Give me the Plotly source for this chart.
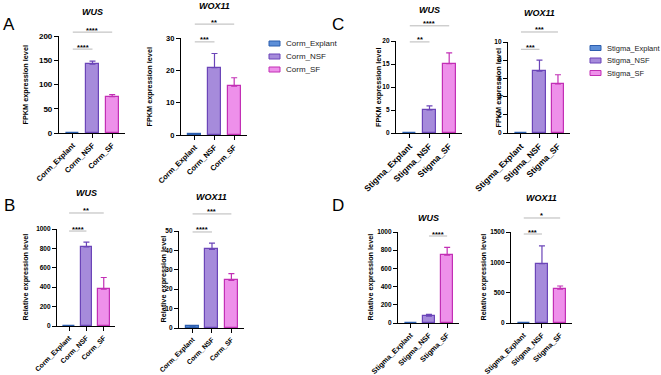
import plotly.graph_objects as go

# ---------------- data ----------------
corm_categories = ["Corm_Explant", "Corm_NSF", "Corm_SF"]
stigma_categories = ["Stigma_Explant", "Stigma_NSF", "Stigma_SF"]

fpkm_corm_wus = [0.0, 142, 75]
fpkm_corm_wus_err = [0.0, 6, 4]
fpkm_corm_wox11 = [0.3, 20.8, 15.1]
fpkm_corm_wox11_err = [0.1, 4.4, 2.6]
fpkm_stigma_wus = [0.0, 5.0, 15.1]
fpkm_stigma_wus_err = [0.0, 0.9, 2.3]
fpkm_stigma_wox11 = [0.0, 6.8, 5.4]
fpkm_stigma_wox11_err = [0.0, 1.2, 1.0]

rel_corm_wus = [1, 815, 380]
rel_corm_wus_err = [0, 50, 120]
rel_corm_wox11 = [1, 40.5, 24.5]
rel_corm_wox11_err = [0.2, 3.3, 3.5]
rel_stigma_wus = [1, 75, 745]
rel_stigma_wus_err = [0, 20, 85]
rel_stigma_wox11 = [1, 980, 560]
rel_stigma_wox11_err = [0, 290, 50]

# significance brackets: (from index, to index, bracket height in data units, label)
sig_A1 = [(0, 2, 208, "****"), (0, 1, 173, "****")]
sig_A2 = [(0, 2, 34.3, "**"), (0, 1, 28.8, "***")]
sig_C1 = [(0, 2, 23.3, "****"), (0, 1, 19.8, "**")]
sig_C2 = [(0, 2, 11.1, "***"), (0, 1, 9.2, "***")]
sig_B1 = [(0, 2, 1165, "**"), (0, 1, 979, "****")]
sig_B2 = [(0, 2, 58.8, "***"), (0, 1, 49.5, "****")]
sig_D1 = [(1, 2, 956, "****")]
sig_D2 = [(0, 2, 1731, "*"), (0, 1, 1467, "***")]

# ---------------- style ----------------
W, H = 661, 375
FONT = "Liberation Sans, Arial, sans-serif"
fills = ["#5d8fd8", "#a68bdb", "#ee90ea"]
edges = ["#2c5eae", "#6b45b8", "#c22fb5"]
XR = [-0.7, 2.65]


def px(x):
    return x / W


def py(y):
    return 1 - y / H


panels = [
    dict(cats=corm_categories, v=fpkm_corm_wus, e=fpkm_corm_wus_err, sig=sig_A1, gene="WUS",
         ytitle="FPKM expression level", ymax=200, dtick=50, box=(59, 125, 36, 133),
         ytx=25, tty=12, yfs=8, xfs=7.5),
    dict(cats=corm_categories, v=fpkm_corm_wox11, e=fpkm_corm_wox11_err, sig=sig_A2, gene="WOX11",
         ytitle="FPKM expression level", ymax=30, dtick=10, box=(181, 247, 38, 135),
         ytx=149, tty=6, yfs=7.5, xfs=7.5),
    dict(cats=stigma_categories, v=fpkm_stigma_wus, e=fpkm_stigma_wus_err, sig=sig_C1, gene="WUS",
         ytitle="FPKM expression level", ymax=20, dtick=5, box=(396, 462, 41, 133),
         ytx=378, tty=10, yfs=6.5, xfs=8.5),
    dict(cats=stigma_categories, v=fpkm_stigma_wox11, e=fpkm_stigma_wox11_err, sig=sig_C2, gene="WOX11",
         ytitle="FPKM expression level", ymax=10, dtick=2, box=(508, 570, 42, 133),
         ytx=498, tty=13, yfs=6.5, xfs=8.5),
    dict(cats=corm_categories, v=rel_corm_wus, e=rel_corm_wus_err, sig=sig_B1, gene="WUS",
         ytitle="Relative expression level", ymax=1000, dtick=200, box=(57, 115, 229, 326),
         ytx=25, tty=193, yfs=6.5, xfs=7),
    dict(cats=corm_categories, v=rel_corm_wox11, e=rel_corm_wox11_err, sig=sig_B2, gene="WOX11",
         ytitle="Relative expression level", ymax=50, dtick=10, box=(179, 244, 231, 328),
         ytx=163, tty=197, yfs=6.5, xfs=6.8),
    dict(cats=stigma_categories, v=rel_stigma_wus, e=rel_stigma_wus_err, sig=sig_D1, gene="WUS",
         ytitle="Relative expression level", ymax=1000, dtick=200, box=(398, 459, 232, 323),
         ytx=370, tty=218, yfs=6.5, xfs=7.3),
    dict(cats=stigma_categories, v=rel_stigma_wox11, e=rel_stigma_wox11_err, sig=sig_D2, gene="WOX11",
         ytitle="Relative expression level", ymax=1500, dtick=500, box=(511, 572, 232, 323),
         ytx=483, tty=198, yfs=6.5, xfs=7.3),
]

# legends: (categories, swatch left px, first row y px, row step px, font size)
legends = [(corm_categories, 269, 43.5, 13, 8), (stigma_categories, 590, 48, 12.5, 7.5)]

letters = [("A", 9, 24), ("B", 9, 205), ("C", 338, 24), ("D", 338, 205)]

fig = go.Figure()
shapes = []
annotations = []
layout = {}

for k, p in enumerate(panels):
    n = k + 1
    xs = "" if n == 1 else str(n)
    xl, xr, yt, yb = p["box"]
    for i, cat in enumerate(p["cats"]):
        fig.add_trace(go.Bar(
            x=[i], y=[p["v"][i]], width=0.67, name=cat,
            marker=dict(color=fills[i], line=dict(color=edges[i], width=1.2)),
            error_y=dict(type="data", symmetric=False, array=[p["e"][i]], arrayminus=[0],
                         color=edges[i], thickness=1.2, width=3),
            xaxis="x" + xs, yaxis="y" + xs, showlegend=False,
        ))
    layout["xaxis" + xs] = dict(
        domain=[px(xl), px(xr)], range=XR, anchor="y" + xs, automargin=False,
        tickmode="array", tickvals=[0, 1, 2], ticktext=p["cats"], tickangle=-45,
        ticks="outside", ticklen=4, tickwidth=1, tickcolor="black",
        showline=True, linecolor="black", linewidth=1.2, showgrid=False, zeroline=False,
        tickfont=dict(family=FONT, size=p["xfs"], color="black", weight="bold"),
    )
    layout["yaxis" + xs] = dict(
        domain=[py(yb), py(yt)], range=[0, p["ymax"]], anchor="x" + xs, automargin=False,
        dtick=p["dtick"], tick0=0,
        ticks="outside", ticklen=4, tickwidth=1, tickcolor="black",
        showline=True, linecolor="black", linewidth=1.2, showgrid=False, zeroline=False,
        tickfont=dict(family=FONT, size=p["yfs"], color="black", weight="bold"),
    )
    d0, d1 = py(yb), py(yt)

    def yval(v, d0=d0, d1=d1, ymax=p["ymax"]):
        return d0 + v / ymax * (d1 - d0)

    for a, b, h, lab in p["sig"]:
        yy = yval(h)
        shapes.append(dict(type="line", xref="x" + xs, yref="paper", x0=a, x1=b, y0=yy, y1=yy,
                           line=dict(color="#b8b8b8", width=1)))
        annotations.append(dict(xref="x" + xs, yref="paper", x=(a + b) / 2, y=yy + 2 / H,
                                text=lab, showarrow=False, yanchor="middle", xanchor="center",
                                font=dict(family=FONT, size=7.5, color="black", weight="bold")))
    annotations.append(dict(xref="x" + xs, yref="paper", x=1, y=py(p["tty"]), text="<i>" + p["gene"] + "</i>",
                            showarrow=False, xanchor="center", yanchor="middle",
                            font=dict(family=FONT, size=9, color="black", weight="bold")))
    annotations.append(dict(xref="paper", yref="paper", x=px(p["ytx"]), y=(d0 + d1) / 2,
                            text=p["ytitle"], textangle=-90, showarrow=False,
                            xanchor="center", yanchor="middle",
                            font=dict(family=FONT, size=7.3, color="black", weight="bold")))

for cats, lx, ly, step, fs in legends:
    for i, cat in enumerate(cats):
        yc = ly + i * step
        shapes.append(dict(type="rect", xref="paper", yref="paper",
                           x0=px(lx), x1=px(lx + 11), y0=py(yc + 2.5), y1=py(yc - 2.5),
                           fillcolor=fills[i], line=dict(color=edges[i], width=1)))
        annotations.append(dict(xref="paper", yref="paper", x=px(lx + 15), y=py(yc), text=cat,
                                showarrow=False, xanchor="left", yanchor="middle",
                                font=dict(family=FONT, size=fs, color="#222")))

for t, x, y in letters:
    annotations.append(dict(xref="paper", yref="paper", x=px(x), y=py(y), text=t, showarrow=False,
                            xanchor="center", yanchor="middle",
                            font=dict(family=FONT, size=17, color="black")))

fig.update_layout(
    width=W, height=H, margin=dict(l=0, r=0, t=0, b=0),
    paper_bgcolor="white", plot_bgcolor="white", showlegend=False,
    shapes=shapes, annotations=annotations, bargap=0,
    **layout,
)

fig.write_html("out.html")
